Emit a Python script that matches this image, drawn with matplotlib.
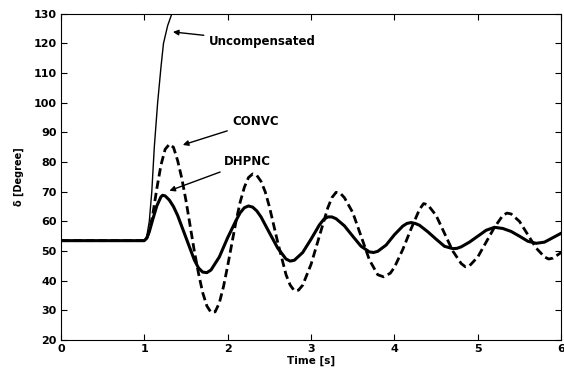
import matplotlib.pyplot as plt

plt.rcParams['font.family'] = ['DejaVu Sans']
plt.rcParams['font.weight'] = 'bold'

# Rotor angle response
t_unc = [0.0, 1.0, 1.03, 1.06, 1.09, 1.12, 1.16, 1.2, 1.23, 1.28, 1.33, 1.38]
d_unc = [53.5, 53.5, 55, 60, 70, 85, 100, 112, 120, 126, 130, 133]

t_conv = [0.0, 1.0, 1.03, 1.06, 1.1, 1.15, 1.2, 1.25, 1.3, 1.35, 1.4, 1.45, 1.5, 1.55,
          1.6, 1.65, 1.7, 1.75, 1.8, 1.85, 1.9, 1.95, 2.0, 2.05, 2.1, 2.15, 2.2, 2.25,
          2.3, 2.35, 2.4, 2.45, 2.5, 2.6, 2.7, 2.75, 2.8, 2.85, 2.9, 3.0,
          3.1, 3.2, 3.25, 3.3, 3.35, 3.4, 3.5, 3.6, 3.7, 3.8, 3.87, 3.95, 4.0, 4.1,
          4.2, 4.3, 4.35, 4.4, 4.5, 4.6, 4.7, 4.8, 4.85, 4.9, 5.0, 5.1, 5.2, 5.3,
          5.35, 5.4, 5.5, 5.6, 5.7, 5.8, 5.85, 5.9, 6.0]
d_conv = [53.5, 53.5, 54.2, 57, 62, 71, 79, 84.3, 86, 85, 80.5, 74.5, 67, 58.5,
          50, 42.5, 36, 31.5, 29.3, 29.5, 32.5, 38, 45, 52.5, 60, 66.5, 71.5, 74.8,
          76, 75.5, 73.5, 70, 65, 53, 42, 38.5, 36.6, 36.8, 38.5, 45.5,
          55, 64.5, 68, 69.8, 69.5, 68, 63, 55, 47, 42, 41.3, 42.5, 44.5, 50.5,
          57.5, 64, 66, 65.6, 62, 56, 50, 45.8, 44.7, 45, 48, 53, 58, 62,
          62.8, 62.5, 60, 55.5, 51, 48, 47.3, 47.6, 49.5]

t_dhp = [0.0, 1.0, 1.03, 1.06, 1.1, 1.15, 1.2, 1.22, 1.25, 1.3, 1.35, 1.4, 1.5, 1.6,
         1.65, 1.7, 1.75, 1.8, 1.9, 2.0, 2.1, 2.15, 2.2, 2.25, 2.3, 2.35, 2.4, 2.5,
         2.6, 2.7, 2.75, 2.8, 2.9, 3.0, 3.1, 3.15, 3.2, 3.25, 3.3, 3.4, 3.5, 3.6,
         3.7, 3.75, 3.8, 3.9, 4.0, 4.1, 4.15, 4.2, 4.25, 4.3, 4.4, 4.5, 4.6, 4.7,
         4.75, 4.8, 4.9, 5.0, 5.1, 5.2, 5.3, 5.4, 5.5, 5.6, 5.7, 5.8, 5.9, 6.0]
d_dhp = [53.5, 53.5, 54.3, 56.5, 60.5, 65.2, 68.3, 68.8, 68.6, 67.2, 65, 62, 54.5, 47,
         44.3, 42.9, 42.7, 43.6, 48, 54.5, 60.3, 62.9, 64.6, 65.2, 64.8, 63.5, 61.5, 56.2,
         51, 47.3, 46.6, 46.9, 49.5, 54, 58.8, 60.6, 61.5, 61.5, 60.9, 58.5, 55, 51.6,
         49.7, 49.5, 49.9, 52, 55.5, 58.4, 59.3, 59.6, 59.3, 58.7, 56.5, 54, 51.6, 50.8,
         50.9, 51.4, 53, 55, 57, 58, 57.6, 56.6, 55, 53.3, 52.6, 53, 54.5, 56]

xticks = [0, 1, 2, 3, 4, 5, 6]
yticks = list(range(20, 131, 10))

fig = plt.figure(figsize=(5.64, 3.74), dpi=100)
ax = fig.add_axes([0.108, 0.091, 0.887, 0.872])

ax.plot(t_unc, d_unc, color='black', lw=1.0)
ax.plot(t_conv, d_conv, color='black', lw=2.0, linestyle=(0, (3, 1.5)))
ax.plot(t_dhp, d_dhp, color='black', lw=2.2, solid_joinstyle='round')

ax.set_xlim(0, 6)
ax.set_ylim(20, 130)
ax.set_xticks(xticks)
ax.set_yticks(yticks)
ax.tick_params(direction='in', top=True, right=True, labelsize=8, length=4, pad=3)
for lab in ax.get_xticklabels() + ax.get_yticklabels():
    lab.set_fontweight('bold')

ax.set_xlabel('Time [s]', fontsize=7.5, fontweight='bold', labelpad=1)
ax.set_ylabel('δ [Degree]', fontsize=7, fontweight='bold', labelpad=7)

arrow = dict(arrowstyle='-|>', color='black', lw=1.0, mutation_scale=8)
ax.annotate('Uncompensated', xy=(1.31, 124), xytext=(1.78, 120.6),
            fontsize=8.5, fontweight='bold', va='center', arrowprops=arrow)
ax.annotate('CONVC', xy=(1.43, 85.5), xytext=(2.06, 93.6),
            fontsize=8.5, fontweight='bold', va='center', arrowprops=arrow)
ax.annotate('DHPNC', xy=(1.27, 70), xytext=(1.96, 80.1),
            fontsize=8.5, fontweight='bold', va='center', arrowprops=arrow)

plt.savefig('out.png', dpi=100)
